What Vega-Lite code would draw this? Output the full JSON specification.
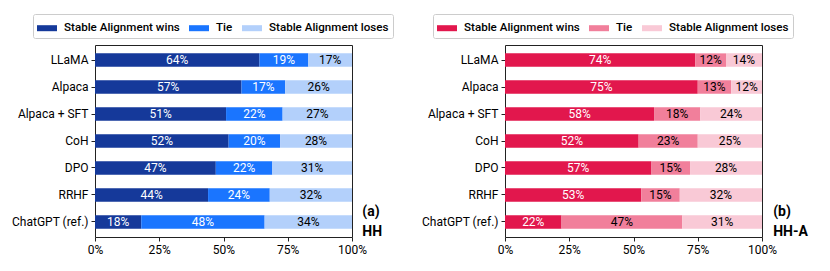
{
  "$schema": "https://vega.github.io/schema/vega-lite/v6.json",
  "padding": {"left": 10, "top": 13, "right": 5, "bottom": 5},
  "datasets": {
    "d": [
      {"panel": "HH", "model": "LLaMA", "outcome": "Stable Alignment wins", "order": 1, "value": 64},
      {"panel": "HH", "model": "LLaMA", "outcome": "Tie", "order": 2, "value": 19},
      {"panel": "HH", "model": "LLaMA", "outcome": "Stable Alignment loses", "order": 3, "value": 17},
      {"panel": "HH", "model": "Alpaca", "outcome": "Stable Alignment wins", "order": 1, "value": 57},
      {"panel": "HH", "model": "Alpaca", "outcome": "Tie", "order": 2, "value": 17},
      {"panel": "HH", "model": "Alpaca", "outcome": "Stable Alignment loses", "order": 3, "value": 26},
      {"panel": "HH", "model": "Alpaca + SFT", "outcome": "Stable Alignment wins", "order": 1, "value": 51},
      {"panel": "HH", "model": "Alpaca + SFT", "outcome": "Tie", "order": 2, "value": 22},
      {"panel": "HH", "model": "Alpaca + SFT", "outcome": "Stable Alignment loses", "order": 3, "value": 27},
      {"panel": "HH", "model": "CoH", "outcome": "Stable Alignment wins", "order": 1, "value": 52},
      {"panel": "HH", "model": "CoH", "outcome": "Tie", "order": 2, "value": 20},
      {"panel": "HH", "model": "CoH", "outcome": "Stable Alignment loses", "order": 3, "value": 28},
      {"panel": "HH", "model": "DPO", "outcome": "Stable Alignment wins", "order": 1, "value": 47},
      {"panel": "HH", "model": "DPO", "outcome": "Tie", "order": 2, "value": 22},
      {"panel": "HH", "model": "DPO", "outcome": "Stable Alignment loses", "order": 3, "value": 31},
      {"panel": "HH", "model": "RRHF", "outcome": "Stable Alignment wins", "order": 1, "value": 44},
      {"panel": "HH", "model": "RRHF", "outcome": "Tie", "order": 2, "value": 24},
      {"panel": "HH", "model": "RRHF", "outcome": "Stable Alignment loses", "order": 3, "value": 32},
      {"panel": "HH", "model": "ChatGPT (ref.)", "outcome": "Stable Alignment wins", "order": 1, "value": 18},
      {"panel": "HH", "model": "ChatGPT (ref.)", "outcome": "Tie", "order": 2, "value": 48},
      {"panel": "HH", "model": "ChatGPT (ref.)", "outcome": "Stable Alignment loses", "order": 3, "value": 34},
      {"panel": "HH-A", "model": "LLaMA", "outcome": "Stable Alignment wins", "order": 1, "value": 74},
      {"panel": "HH-A", "model": "LLaMA", "outcome": "Tie", "order": 2, "value": 12},
      {"panel": "HH-A", "model": "LLaMA", "outcome": "Stable Alignment loses", "order": 3, "value": 14},
      {"panel": "HH-A", "model": "Alpaca", "outcome": "Stable Alignment wins", "order": 1, "value": 75},
      {"panel": "HH-A", "model": "Alpaca", "outcome": "Tie", "order": 2, "value": 13},
      {"panel": "HH-A", "model": "Alpaca", "outcome": "Stable Alignment loses", "order": 3, "value": 12},
      {"panel": "HH-A", "model": "Alpaca + SFT", "outcome": "Stable Alignment wins", "order": 1, "value": 58},
      {"panel": "HH-A", "model": "Alpaca + SFT", "outcome": "Tie", "order": 2, "value": 18},
      {"panel": "HH-A", "model": "Alpaca + SFT", "outcome": "Stable Alignment loses", "order": 3, "value": 24},
      {"panel": "HH-A", "model": "CoH", "outcome": "Stable Alignment wins", "order": 1, "value": 52},
      {"panel": "HH-A", "model": "CoH", "outcome": "Tie", "order": 2, "value": 23},
      {"panel": "HH-A", "model": "CoH", "outcome": "Stable Alignment loses", "order": 3, "value": 25},
      {"panel": "HH-A", "model": "DPO", "outcome": "Stable Alignment wins", "order": 1, "value": 57},
      {"panel": "HH-A", "model": "DPO", "outcome": "Tie", "order": 2, "value": 15},
      {"panel": "HH-A", "model": "DPO", "outcome": "Stable Alignment loses", "order": 3, "value": 28},
      {"panel": "HH-A", "model": "RRHF", "outcome": "Stable Alignment wins", "order": 1, "value": 53},
      {"panel": "HH-A", "model": "RRHF", "outcome": "Tie", "order": 2, "value": 15},
      {"panel": "HH-A", "model": "RRHF", "outcome": "Stable Alignment loses", "order": 3, "value": 32},
      {"panel": "HH-A", "model": "ChatGPT (ref.)", "outcome": "Stable Alignment wins", "order": 1, "value": 22},
      {"panel": "HH-A", "model": "ChatGPT (ref.)", "outcome": "Tie", "order": 2, "value": 47},
      {"panel": "HH-A", "model": "ChatGPT (ref.)", "outcome": "Stable Alignment loses", "order": 3, "value": 31}
    ]
  },
  "hconcat": [
    {
      "width": 257,
      "height": 192,
      "data": {"name": "d"},
      "transform": [
        {"filter": "datum.panel === 'HH'"},
        {"stack": "value", "groupby": ["model"], "sort": [{"field": "order"}], "as": ["v0", "v1"]},
        {"calculate": "(datum.v0 + datum.v1) / 2", "as": "mid"},
        {"calculate": "datum.value + '%'", "as": "label"}
      ],
      "title": {"text": ["(a)", "HH"], "orient": "right", "anchor": "end", "frame": "group", "angle": 0, "align": "left", "baseline": "bottom", "offset": -51, "fontSize": 14, "fontWeight": "bold", "lineHeight": 20, "font": "Roboto", "color": "black", "dy": -18},
      "encoding": {
        "y": {"field": "model", "type": "nominal", "sort": ["LLaMA", "Alpaca", "Alpaca + SFT", "CoH", "DPO", "RRHF", "ChatGPT (ref.)"], "scale": {"paddingInner": 0.5, "paddingOuter": 0.31}, "axis": {"title": null}}
      },
      "layer": [
        {
          "mark": {"type": "bar"},
          "encoding": {
            "x": {"field": "v0", "type": "quantitative", "scale": {"domain": [0, 100]}, "axis": {"title": null, "values": [0, 25, 50, 75, 100], "labelExpr": "datum.value + '%'"}},
            "x2": {"field": "v1"},
            "color": {"field": "outcome", "type": "nominal", "sort": ["Stable Alignment wins", "Tie", "Stable Alignment loses"],
              "scale": {"domain": ["Stable Alignment wins", "Tie", "Stable Alignment loses"], "range": ["#15399a", "#1a75ff", "#b3d0fb"]},
              "legend": {"title": null, "orient": "none", "legendX": -62, "legendY": -31, "direction": "horizontal"}}
          }
        },
        {
          "mark": {"type": "text", "fontSize": 12, "font": "Roboto"},
          "encoding": {
            "x": {"field": "mid", "type": "quantitative"},
            "text": {"field": "label"},
            "color": {"condition": {"test": "datum.outcome === 'Stable Alignment loses'", "value": "black"}, "value": "white"}
          }
        }
      ]
    },
    {
      "width": 257,
      "height": 192,
      "data": {"name": "d"},
      "transform": [
        {"filter": "datum.panel === 'HH-A'"},
        {"stack": "value", "groupby": ["model"], "sort": [{"field": "order"}], "as": ["v0", "v1"]},
        {"calculate": "(datum.v0 + datum.v1) / 2", "as": "mid"},
        {"calculate": "datum.value + '%'", "as": "label"}
      ],
      "title": {"text": ["(b)", "HH-A"], "orient": "right", "anchor": "end", "frame": "group", "angle": 0, "align": "left", "baseline": "bottom", "offset": -55, "fontSize": 14, "fontWeight": "bold", "lineHeight": 20, "font": "Roboto", "color": "black", "dy": -18},
      "encoding": {
        "y": {"field": "model", "type": "nominal", "sort": ["LLaMA", "Alpaca", "Alpaca + SFT", "CoH", "DPO", "RRHF", "ChatGPT (ref.)"], "scale": {"paddingInner": 0.5, "paddingOuter": 0.31}, "axis": {"title": null}}
      },
      "layer": [
        {
          "mark": {"type": "bar"},
          "encoding": {
            "x": {"field": "v0", "type": "quantitative", "scale": {"domain": [0, 100]}, "axis": {"title": null, "values": [0, 25, 50, 75, 100], "labelExpr": "datum.value + '%'"}},
            "x2": {"field": "v1"},
            "color": {"field": "outcome", "type": "nominal", "sort": ["Stable Alignment wins", "Tie", "Stable Alignment loses"],
              "scale": {"domain": ["Stable Alignment wins", "Tie", "Stable Alignment loses"], "range": ["#e2174d", "#f17f9b", "#f9c9d6"]},
              "legend": {"title": null, "orient": "none", "legendX": -72, "legendY": -31, "direction": "horizontal"}}
          }
        },
        {
          "mark": {"type": "text", "fontSize": 12, "font": "Roboto"},
          "encoding": {
            "x": {"field": "mid", "type": "quantitative"},
            "text": {"field": "label"},
            "color": {"condition": {"test": "datum.outcome !== 'Stable Alignment wins'", "value": "black"}, "value": "white"}
          }
        }
      ]
    }
  ],
  "spacing": 26,
  "resolve": {"scale": {"color": "independent"}},
  "config": {
    "font": "Roboto",
    "view": {"stroke": "#222222", "strokeWidth": 1},
    "axis": {"grid": false, "domain": false, "tickColor": "#222222", "tickSize": 4, "labelFontSize": 12, "labelColor": "black", "labelFont": "Roboto", "labelPadding": 3},
    "axisX": {"labelFlush": false},
    "legend": {"symbolType": "M-1,-0.3H1V0.3H-1Z", "symbolSize": 400, "symbolOpacity": 1, "symbolStrokeWidth": 0, "strokeColor": "#cccccc", "padding": 4, "cornerRadius": 2, "labelFontSize": 11.6, "labelFont": "Roboto", "labelFontWeight": 500, "labelColor": "black", "labelOffset": 7, "columnPadding": 9, "fillColor": "white"}
  }
}
